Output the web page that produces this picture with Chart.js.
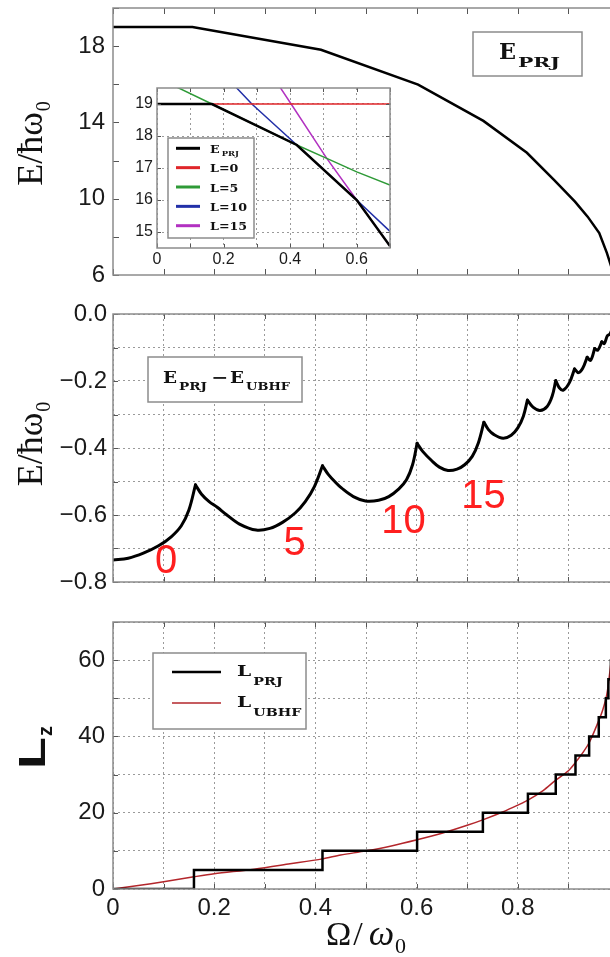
<!DOCTYPE html>
<html>
<head>
<meta charset="utf-8">
<script src="https://cdn.jsdelivr.net/npm/chart.js@4.4.0/dist/chart.umd.min.js"></script>
<style>
  html, body { margin: 0; padding: 0; background: #fff; }
  body { width: 610px; height: 957px; overflow: hidden; position: relative; }
  canvas { position: absolute; }
</style>
</head>
<body>
<canvas id="chartTop" width="640" height="300" style="left:0px;top:0px"></canvas>
<canvas id="chartMid" width="640" height="310" style="left:0px;top:300px"></canvas>
<canvas id="chartBot" width="640" height="347" style="left:0px;top:610px"></canvas>
<canvas id="chartInset" width="270" height="186" style="left:125px;top:82px;background:#fff"></canvas>
<script>
// ---- data ----
// top panel: projected energy
const prjOmega = [0, 0.157, 0.411, 0.603, 0.732, 0.818, 0.872, 0.913, 0.938, 0.961, 0.976, 0.99, 1.0];
const prjEnergy = [19.0, 19.0, 17.81, 15.98, 14.08, 12.41, 10.98, 9.85, 9.06, 8.2, 7.16, 6.0, 5.2];

// inset: E_PRJ and the fixed-L branches
const insetNames = ["E_PRJ", "L=0", "L=5", "L=10", "L=15"];
const insetPrjOmega = [0, 0.165, 0.42, 0.6, 0.7];
const insetPrjEnergy = [19.0, 19.0, 17.72, 16.0, 14.56];
const l0Omega = [0, 0.7];
const l0Energy = [19.0, 19.0];
const l5Omega = [0.055, 0.165, 0.42, 0.51, 0.6, 0.7];
const l5Energy = [19.55, 19.0, 17.72, 17.3, 16.88, 16.47];
const l10Omega = [0.235, 0.285, 0.42, 0.6, 0.7];
const l10Energy = [19.55, 19.0, 17.72, 16.0, 15.02];
const l15Omega = [0.368, 0.403, 0.51, 0.6, 0.7];
const l15Energy = [19.55, 19.0, 17.3, 16.0, 14.56];

// middle panel: E_PRJ - E_UBHF
const diffOmega = [
  0, 0.03, 0.06, 0.09, 0.115, 0.135, 0.15, 0.163,
  0.175, 0.19, 0.206, 0.225, 0.25, 0.283, 0.31, 0.335, 0.36, 0.38, 0.398, 0.414,
  0.425, 0.44, 0.452, 0.475, 0.499, 0.525, 0.545, 0.565, 0.58, 0.592, 0.601,
  0.612, 0.63, 0.645, 0.662, 0.68, 0.695, 0.71, 0.722, 0.733,
  0.742, 0.753, 0.771, 0.787, 0.8, 0.811, 0.819,
  0.83, 0.844, 0.858, 0.868, 0.875,
  0.882, 0.89, 0.902, 0.912,
  0.92, 0.928, 0.937, 0.944, 0.952, 0.958, 0.966, 0.971, 0.977, 0.982, 0.988, 0.994, 1.0
];
const diffEnergy = [
  -0.734, -0.729, -0.714, -0.692, -0.665, -0.632, -0.585, -0.51,
  -0.538, -0.56, -0.577, -0.6, -0.627, -0.645, -0.64, -0.622, -0.594, -0.56, -0.515, -0.453,
  -0.478, -0.503, -0.52, -0.545, -0.558, -0.556, -0.545, -0.522, -0.495, -0.45, -0.386,
  -0.41, -0.438, -0.457, -0.467, -0.463, -0.45, -0.425, -0.385, -0.323,
  -0.345, -0.36, -0.371, -0.362, -0.34, -0.305, -0.257,
  -0.278, -0.288, -0.276, -0.245, -0.199,
  -0.22, -0.227, -0.205, -0.164,
  -0.175, -0.163, -0.129, -0.138, -0.103, -0.108, -0.083, -0.088, -0.065, -0.06, -0.04, -0.03, -0.01
];
const stateLabels = ["0", "5", "10", "15"];
const stateLabelOmega = [0.105, 0.359, 0.574, 0.732];
const stateLabelEnergy = [-0.739, -0.687, -0.621, -0.546];

// bottom panel: angular momentum
const lzNames = ["L_PRJ", "L_UBHF"];
const lzStepOmega = [0, 0.16, 0.414, 0.601, 0.731, 0.82, 0.875, 0.914, 0.941, 0.96, 0.974, 0.979, 0.984, 0.988, 0.992, 1.0];
const lzStepValue = [0, 5, 10, 15, 20, 25, 30, 35, 40, 45, 50, 55, 60, 65, 70, 75];
const lzUbhfOmega = [0, 0.05, 0.1, 0.16, 0.2, 0.279, 0.35, 0.414, 0.45, 0.5, 0.55, 0.601, 0.65, 0.7, 0.732, 0.77, 0.8, 0.82, 0.85, 0.874, 0.9, 0.913, 0.93, 0.942, 0.958, 0.968, 0.976, 0.982, 0.988, 0.993];
const lzUbhfValue = [0, 0.9, 1.9, 3.2, 4.0, 5.2, 6.6, 7.9, 8.9, 10.0, 11.3, 12.9, 14.6, 16.7, 18.2, 20.2, 22.0, 23.3, 25.8, 28.4, 31.0, 33.0, 36.0, 38.6, 43.5, 47.0, 51.0, 57.0, 64.0, 72.0];

// ticks
const omegaTicks = [0, 0.1, 0.2, 0.3, 0.4, 0.5, 0.6, 0.7, 0.8, 0.9, 1.0];
const omegaLabelled = [0, 0.2, 0.4, 0.6, 0.8, 1.0];
const topTicks = [6, 8, 10, 12, 14, 16, 18, 20];
const topLabelled = [6, 10, 14, 18];
const diffTicks = [-0.8, -0.7, -0.6, -0.5, -0.4, -0.3, -0.2, -0.1, 0];
const diffLabelled = [-0.8, -0.6, -0.4, -0.2, 0];
const lzTicks = [0, 10, 20, 30, 40, 50, 60, 70];
const lzLabelled = [0, 20, 40, 60];
const insetOmegaTicks = [0, 0.1, 0.2, 0.3, 0.4, 0.5, 0.6, 0.7];
const insetOmegaLabelled = [0, 0.2, 0.4, 0.6];
const insetEnergyTicks = [15, 16, 17, 18, 19];

// ---- helpers ----
const SANS = '"Liberation Sans", Arial, sans-serif';
const SERIF = '"Liberation Serif", "Times New Roman", serif';
const SLAB = '"DejaVu Serif", serif';
const FRAME = "#8c8c8c";
const GRID = "#9a9a9a";

const pts = (xs, ys) => xs.map((x, i) => ({ x: x, y: ys[i] }));
const has = (list, v) => list.some((t) => Math.abs(t - v) < 1e-6);

function fmtOmega(v) {
  if (Math.abs(v) < 1e-6) return "0";
  if (Math.abs(v - 1) < 1e-6) return "1";
  return v.toFixed(1);
}
function fmtDiff(v) {
  if (Math.abs(v) < 1e-6) return "0.0";
  return "\u2212" + Math.abs(v).toFixed(1);
}

// draws text pieces one after another; a piece may ask for a target width (w)
function drawRuns(ctx, x, y, runs, draw) {
  let cx = x;
  for (const r of runs) {
    ctx.font = r.font;
    const mw = ctx.measureText(r.text).width;
    const sx = r.w ? r.w / mw : (r.sx || 1);
    cx += r.gap || 0;
    if (draw !== false) {
      ctx.save();
      ctx.translate(cx, y + (r.dy || 0));
      ctx.scale(sx, 1);
      ctx.fillText(r.text, 0, 0);
      ctx.restore();
    }
    cx += mw * sx;
  }
  return cx - x;
}

function labelRuns(label, big, small, drop, sx, subSx) {
  const parts = label.split("_");
  const runs = [{ text: parts[0], font: "bold " + big + "px " + SLAB, sx: sx }];
  if (parts[1]) runs.push({ text: parts[1], font: "bold " + small + "px " + SLAB, dy: drop, sx: subSx, gap: 2 });
  return runs;
}

function line(ctx, x1, y1, x2, y2) {
  ctx.beginPath();
  ctx.moveTo(x1, y1);
  ctx.lineTo(x2, y2);
  ctx.stroke();
}

// frame + inward tick marks, through the chart's own scales
const panelFrame = {
  id: "panelFrame",
  afterDraw(chart, args, opts) {
    const ctx = chart.ctx;
    const a = chart.chartArea;
    const sx = chart.scales.x;
    const sy = chart.scales.y;
    ctx.save();
    ctx.strokeStyle = "#555";
    ctx.lineWidth = 1;
    ctx.setLineDash([]);
    for (const t of sx.ticks) {
      const px = Math.round(sx.getPixelForValue(t.value)) + 0.5;
      line(ctx, px, a.top, px, a.top + opts.len);
      line(ctx, px, a.bottom, px, a.bottom - opts.len);
    }
    for (const t of sy.ticks) {
      const py = Math.round(sy.getPixelForValue(t.value)) + 0.5;
      line(ctx, a.left, py, a.left + opts.len, py);
      line(ctx, a.right, py, a.right - opts.len, py);
    }
    ctx.strokeStyle = FRAME;
    ctx.lineWidth = 1.5;
    ctx.strokeRect(a.left, a.top, a.right - a.left, a.bottom - a.top);
    ctx.restore();
  },
};

// rotated y title with subscript
function drawYTitle(ctx, xBase, yCenter, runs) {
  ctx.save();
  ctx.fillStyle = "#111";
  ctx.textBaseline = "alphabetic";
  ctx.translate(xBase, yCenter);
  ctx.rotate(-Math.PI / 2);
  const w = drawRuns(ctx, 0, 0, runs, false);
  drawRuns(ctx, -w / 2, 0, runs);
  ctx.restore();
}

function axis(min, max, ticks, labelled, fmt, o) {
  return {
    type: "linear",
    min: min,
    max: max,
    afterBuildTicks: (s) => { s.ticks = ticks.map((v) => ({ value: v })); },
    afterFit: (s) => {
      if (o.width != null) s.width = o.width;
      if (o.height != null) s.height = o.height;
      s.paddingTop = 0;
      s.paddingBottom = 0;
      s.paddingLeft = 0;
      s.paddingRight = 0;
    },
    grid: { display: o.grid, color: GRID, lineWidth: 1, drawTicks: false },
    border: { display: false, dash: [2, 3] },
    ticks: {
      display: !!fmt,
      autoSkip: false,
      maxRotation: 0,
      padding: o.pad || 0,
      color: "#1a1a1a",
      font: { family: SANS, size: o.size || 24 },
      callback: (v) => (fmt && has(labelled, v) ? fmt(v) : ""),
    },
  };
}

function baseOptions(padding, scales, frameLen) {
  return {
    responsive: false,
    animation: false,
    devicePixelRatio: 1,
    events: [],
    layout: { padding: padding, autoPadding: false },
    plugins: { legend: { display: false }, tooltip: { enabled: false }, panelFrame: { len: frameLen } },
    elements: { point: { radius: 0 }, line: { tension: 0 } },
    scales: scales,
  };
}

const yTitleRuns = [
  { text: "E/\u0127\u03C9", font: "36px " + SERIF },
  { text: "0", font: "20px " + SERIF, dy: 8, gap: 1 },
];

// ---- top panel ----
const topDecor = {
  id: "topDecor",
  afterDraw(chart) {
    const ctx = chart.ctx;
    const a = chart.chartArea;
    drawYTitle(ctx, 42, (a.top + a.bottom) / 2 + 2, yTitleRuns);
    ctx.save();
    ctx.fillStyle = "#fff";
    ctx.fillRect(473, 32, 109, 44);
    ctx.strokeStyle = FRAME;
    ctx.lineWidth = 1.5;
    ctx.strokeRect(473, 32, 109, 44);
    ctx.fillStyle = "#111";
    ctx.textBaseline = "alphabetic";
    drawRuns(ctx, 499, 59, [
      { text: "E", font: "bold 22px " + SLAB, w: 17 },
      { text: "PRJ", font: "bold 13px " + SLAB, dy: 8, w: 42, gap: 2 },
    ]);
    ctx.restore();
  },
};

new Chart(document.getElementById("chartTop"), {
  type: "line",
  data: {
    datasets: [
      { data: pts(prjOmega, prjEnergy), borderColor: "#000", borderWidth: 2.5 },
    ],
  },
  options: baseOptions({ top: 8, right: 21, left: 0, bottom: 0 }, {
    x: axis(0, 1, omegaTicks, omegaLabelled, null, { height: 25, grid: false }),
    y: axis(6, 20, topTicks, topLabelled, (v) => String(v), { width: 113, grid: false, pad: 8 }),
  }, 6),
  plugins: [panelFrame, topDecor],
});

// ---- inset ----
const insetColors = ["#000000", "#e0262a", "#2e9a37", "#2230a8", "#b231c1"];

const insetLegend = {
  id: "insetLegend",
  afterDraw(chart) {
    const ctx = chart.ctx;
    ctx.save();
    ctx.fillStyle = "#fff";
    ctx.fillRect(43, 56, 86, 100);
    ctx.strokeStyle = FRAME;
    ctx.lineWidth = 1.5;
    ctx.strokeRect(43, 56, 86, 100);
    chart.data.datasets.forEach((ds, i) => {
      const y = 66.3 + i * 19.35;
      ctx.strokeStyle = ds.borderColor;
      ctx.lineWidth = 3;
      line(ctx, 51, y, 75, y);
      ctx.fillStyle = "#111";
      ctx.textBaseline = "alphabetic";
      drawRuns(ctx, 85, y + 4.5, labelRuns(ds.label, 11, 7, 3, 1.15, 1.2));
    });
    ctx.restore();
  },
};

const insetSeries = [
  pts(insetPrjOmega, insetPrjEnergy),
  pts(l0Omega, l0Energy),
  pts(l5Omega, l5Energy),
  pts(l10Omega, l10Energy),
  pts(l15Omega, l15Energy),
];

new Chart(document.getElementById("chartInset"), {
  type: "line",
  data: {
    datasets: insetSeries.map((d, i) => ({
      label: insetNames[i],
      data: d,
      borderColor: insetColors[i],
      borderWidth: i === 0 ? 2.5 : 1.5,
    })),
  },
  options: baseOptions({ top: 6, right: 5, left: 0, bottom: 0 }, {
    x: axis(0, 0.7, insetOmegaTicks, insetOmegaLabelled, fmtOmega, { height: 20, grid: true, pad: 2, size: 16 }),
    y: axis(14.5, 19.5, insetEnergyTicks, insetEnergyTicks, (v) => String(v), { width: 32, grid: true, pad: 4, size: 16 }),
  }, 4),
  plugins: [panelFrame, insetLegend],
});

// ---- middle panel ----
// split the curve at its cusps so each smooth arc keeps a sharp tip
const diffPts = pts(diffOmega, diffEnergy);
const diffArcs = [];
let arcStart = 0;
for (let i = 1; i < diffPts.length - 1; i++) {
  if (diffEnergy[i] > diffEnergy[i - 1] && diffEnergy[i] > diffEnergy[i + 1]) {
    diffArcs.push(diffPts.slice(arcStart, i + 1));
    arcStart = i;
  }
}
diffArcs.push(diffPts.slice(arcStart));

const midDecor = {
  id: "midDecor",
  afterDraw(chart) {
    const ctx = chart.ctx;
    const a = chart.chartArea;
    drawYTitle(ctx, 42, (a.top + a.bottom) / 2 - 4, yTitleRuns);
    ctx.save();
    ctx.fillStyle = "#fff";
    ctx.fillRect(148, 57, 154, 45);
    ctx.strokeStyle = FRAME;
    ctx.lineWidth = 1.5;
    ctx.strokeRect(148, 57, 154, 45);
    ctx.fillStyle = "#111";
    ctx.textBaseline = "alphabetic";
    drawRuns(ctx, 163, 83, [
      { text: "E", font: "bold 16px " + SLAB, w: 14 },
      { text: "PRJ", font: "bold 11px " + SLAB, dy: 7, w: 28, gap: 2 },
      { text: "\u2212", font: "bold 16px " + SLAB, w: 17, gap: 4 },
      { text: "E", font: "bold 16px " + SLAB, w: 14, gap: 2 },
      { text: "UBHF", font: "bold 11px " + SLAB, dy: 7, w: 44, gap: 2 },
    ]);
    // red L labels placed through the scales
    ctx.fillStyle = "#ff1f1f";
    ctx.font = "40px " + SANS;
    ctx.textAlign = "center";
    ctx.textBaseline = "middle";
    stateLabels.forEach((t, i) => {
      ctx.fillText(t, chart.scales.x.getPixelForValue(stateLabelOmega[i]), chart.scales.y.getPixelForValue(stateLabelEnergy[i]));
    });
    ctx.restore();
  },
};

new Chart(document.getElementById("chartMid"), {
  type: "line",
  data: {
    datasets: diffArcs.map((arc) => ({
      data: arc,
      borderColor: "#000",
      borderWidth: 3,
      tension: 0.35,
      borderCapStyle: "round",
      borderJoinStyle: "round",
    })),
  },
  options: baseOptions({ top: 14, right: 21, left: 0, bottom: 0 }, {
    x: axis(0, 1, omegaTicks, omegaLabelled, null, { height: 28, grid: true }),
    y: axis(-0.8, 0, diffTicks, diffLabelled, fmtDiff, { width: 113, grid: true, pad: 6 }),
  }, 5),
  plugins: [panelFrame, midDecor],
});

// ---- bottom panel ----
const botDecor = {
  id: "botDecor",
  afterDraw(chart) {
    const ctx = chart.ctx;
    const a = chart.chartArea;
    drawYTitle(ctx, 45, (a.top + a.bottom) / 2 - 8, [
      { text: "L", font: "bold 36px " + SANS, sx: 1.45 },
      { text: "z", font: "bold 20px " + SANS, dy: 7, gap: 1 },
    ]);
    ctx.save();
    ctx.fillStyle = "#111";
    ctx.textBaseline = "alphabetic";
    const runs = [
      { text: "\u03A9", font: "34px " + SERIF },
      { text: "/", font: "34px " + SERIF, gap: 2 },
      { text: "\u03C9", font: "italic 36px " + SERIF, gap: 6 },
      { text: "0", font: "22px " + SERIF, dy: 8, gap: 1 },
    ];
    const w = drawRuns(ctx, 0, 0, runs, false);
    drawRuns(ctx, (a.left + a.right) / 2 - w / 2, 335, runs);
    // legend
    ctx.fillStyle = "#fff";
    ctx.fillRect(153, 43, 153, 76);
    ctx.strokeStyle = FRAME;
    ctx.lineWidth = 1.5;
    ctx.strokeRect(153, 43, 153, 76);
    chart.data.datasets.forEach((ds, i) => {
      const y = 62 + i * 31;
      ctx.strokeStyle = ds.borderColor;
      ctx.lineWidth = ds.borderWidth;
      line(ctx, 172, y, 221, y);
      ctx.fillStyle = "#111";
      drawRuns(ctx, 237, y + 4, labelRuns(ds.label, 15, 11, 9, 1.35, 1.3));
    });
    ctx.restore();
  },
};

new Chart(document.getElementById("chartBot"), {
  type: "line",
  data: {
    datasets: [
      { label: lzNames[0], data: pts(lzStepOmega, lzStepValue), borderColor: "#000", borderWidth: 2.5, stepped: "before" },
      { label: lzNames[1], data: pts(lzUbhfOmega, lzUbhfValue), borderColor: "#b3262b", borderWidth: 1.5, tension: 0.3 },
    ],
  },
  options: baseOptions({ top: 12, right: 21, left: 0, bottom: 0 }, {
    x: axis(0, 1, omegaTicks, omegaLabelled, fmtOmega, { height: 68, grid: true, pad: 5 }),
    y: axis(0, 70, lzTicks, lzLabelled, (v) => String(v), { width: 113, grid: true, pad: 8 }),
  }, 5),
  plugins: [panelFrame, botDecor],
});
</script>
</body>
</html>
